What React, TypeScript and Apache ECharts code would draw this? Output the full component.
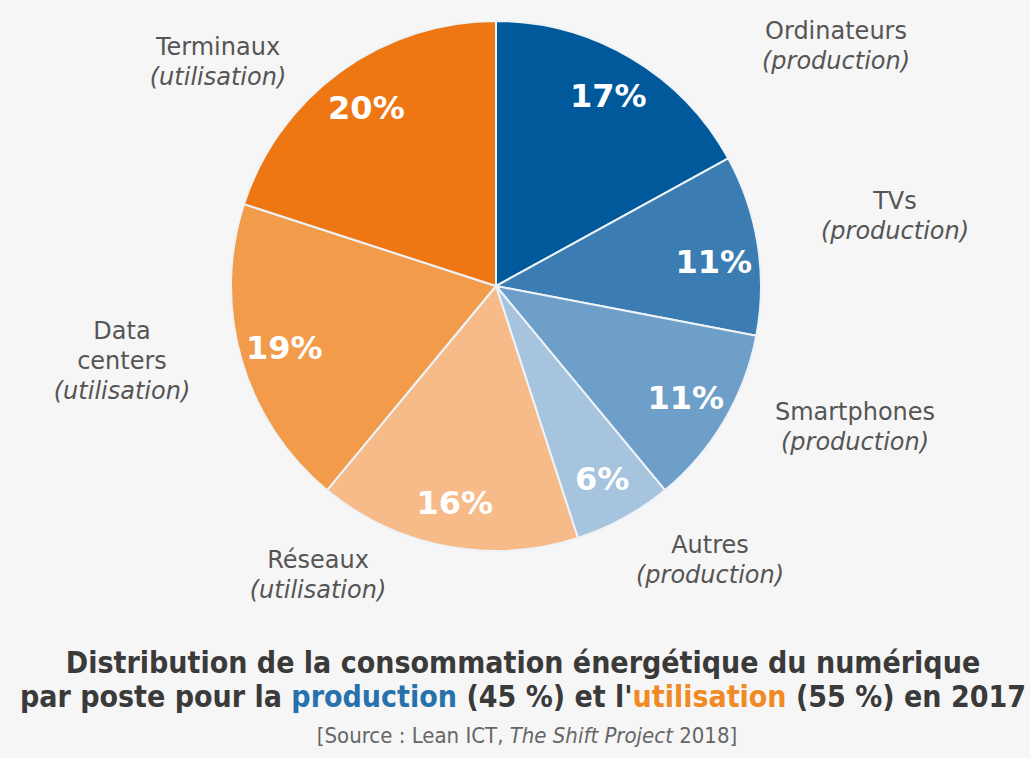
import React, { useEffect, useRef } from "react";
import * as echarts from "echarts";

const names = ["Ordinateurs", "TVs", "Smartphones", "Autres", "Réseaux", "Data\ncenters", "Terminaux"];
const kinds = ["production", "production", "production", "production", "utilisation", "utilisation", "utilisation"];
const values = [17, 11, 11, 6, 16, 19, 20];
const colors = ["#00599b", "#3b7db2", "#6e9fc9", "#a6c4de", "#f6bb89", "#f29b4b", "#ee7613"];
// label block centres (layout, not data)
const namePos: [number, number][] = [
  [836, 46], [895, 216], [855, 427], [710, 560], [318, 575], [122, 361], [218, 62],
];

const titleLine1 = "Distribution de la consommation énergétique du numérique";
const source = "[Source : Lean ICT, ";
const sourceItalic = "The Shift Project";
const sourceEnd = " 2018]";

export default function App() {
  const ref = useRef<HTMLDivElement>(null);
  useEffect(() => {
    if (!ref.current) return;
    const chart = echarts.init(ref.current, undefined, { renderer: "svg" });
    const pieData = values.map((v, i) => ({
      name: names[i],
      value: v,
      itemStyle: { color: colors[i] },
    }));
    const titleFont = "'DejaVu Sans Condensed', 'DejaVu Sans', sans-serif";
    const labelFont = "'DejaVu Sans', sans-serif";
    chart.setOption({
      animation: false,
      backgroundColor: "#f6f6f6",
      title: [
        {
          left: 518,
          top: 640,
          textAlign: "center",
          text:
            "{a|" + titleLine1 + "}\n{a|par poste pour la }{p|production}{a| (45 %) et l'}{u|utilisation}{a| (55 %) en 2017}",
          textStyle: {
            rich: {
              a: { fontFamily: titleFont, fontWeight: "bold", fontSize: 30, color: "#3a3a3a", lineHeight: 34 },
              p: { fontFamily: titleFont, fontWeight: "bold", fontSize: 30, color: "#2771ad", lineHeight: 34 },
              u: { fontFamily: titleFont, fontWeight: "bold", fontSize: 30, color: "#f08a24", lineHeight: 34 },
            },
          },
        },
        {
          left: 522,
          top: 719,
          textAlign: "center",
          text: "{s|" + source + "}{i|" + sourceItalic + "}{s|" + sourceEnd + "}",
          textStyle: {
            fontWeight: "normal",
            rich: {
              s: { fontFamily: titleFont, fontSize: 22, fontWeight: "normal", color: "#666666" },
              i: { fontFamily: titleFont, fontSize: 22, fontWeight: "normal", color: "#666666", fontStyle: "italic" },
            },
          },
        },
      ],
      series: [
        {
          type: "pie",
          center: [496, 286],
          radius: [0, 265],
          startAngle: 90,
          clockwise: true,
          data: pieData,
          itemStyle: { borderColor: "#eef3f8", borderWidth: 2 },
          label: {
            show: true,
            position: "outside",
            formatter: (p: any) => {
              const lines = String(p.name).split("\n").map((l) => "{n|" + l + "}").join("\n");
              return lines + "\n{i|(" + kinds[p.dataIndex] + ")}";
            },
            align: "center",
            rich: {
              n: { fontFamily: labelFont, fontSize: 24, color: "#555555", lineHeight: 30, align: "center" },
              i: { fontFamily: labelFont, fontSize: 24, color: "#555555", fontStyle: "italic", lineHeight: 30, align: "center" },
            },
          },
          labelLine: { show: false },
          labelLayout: (params: any) => ({
            x: namePos[params.dataIndex][0],
            y: namePos[params.dataIndex][1],
            align: "center",
            verticalAlign: "middle",
          }),
          emphasis: { disabled: true },
        },
        {
          type: "pie",
          center: [496, 286],
          radius: [170, 265],
          startAngle: 90,
          clockwise: true,
          silent: true,
          data: values.map((v, i) => ({
            name: names[i],
            value: v,
            label: i === 1 ? { offset: [0, 10] } : undefined,
          })),
          itemStyle: { color: "rgba(0,0,0,0)", borderWidth: 0 },
          label: {
            show: true,
            position: "inside",
            formatter: (p: any) => p.value + "%",
            fontFamily: "'DejaVu Sans', sans-serif",
            fontWeight: "bold",
            fontSize: 32,
            color: "#ffffff",
          },
          labelLine: { show: false },
          emphasis: { disabled: true },
        },
      ],
    });
    return () => chart.dispose();
  }, []);
  return (
    <div
      ref={ref}
      style={{ position: "absolute", left: 0, top: 0, width: 1030, height: 758 }}
    />
  );
}
